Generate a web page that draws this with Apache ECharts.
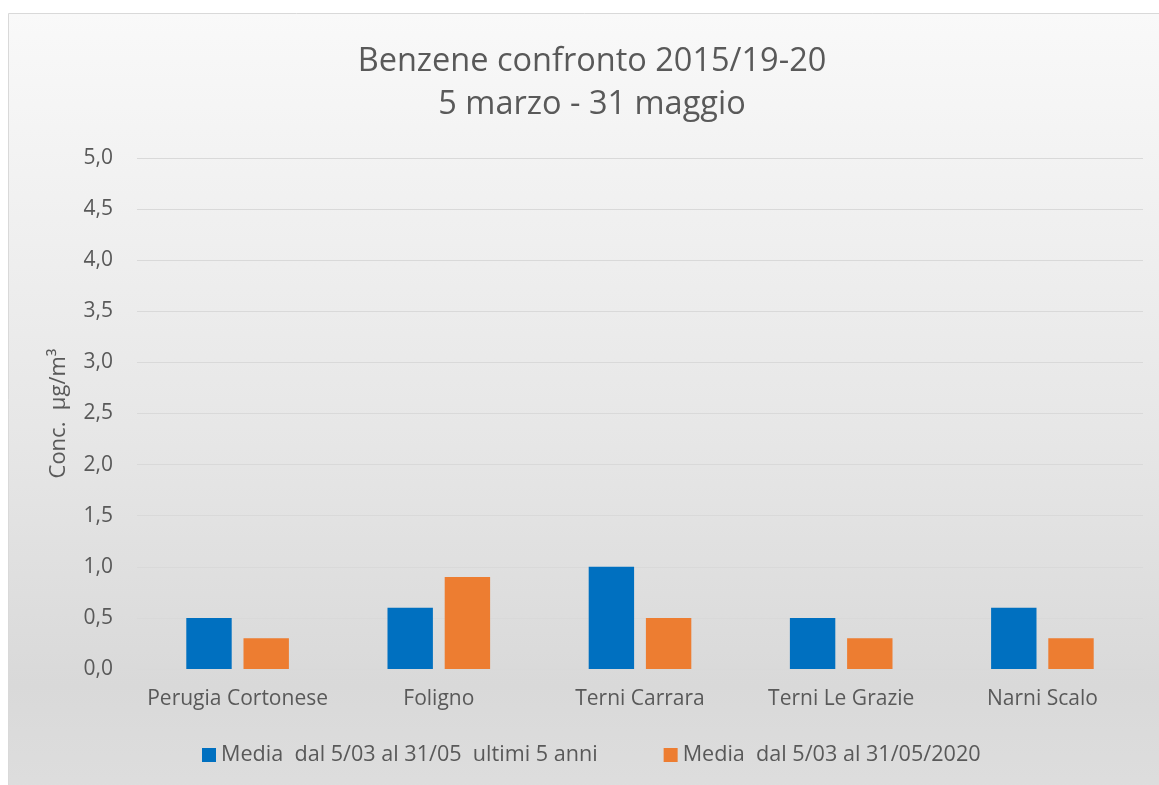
<!DOCTYPE html>
<html>
<head>
<meta charset="utf-8">
<script src="https://cdn.jsdelivr.net/npm/echarts@6/dist/echarts.min.js"></script>
<style>html,body{margin:0;padding:0;background:#fff}#c{width:1159px;height:785px}</style>
</head>
<body>
<div id="c"></div>
<script>
const titleText = "Benzene confronto 2015/19-20\n5 marzo - 31 maggio";
const categories = ["Perugia Cortonese", "Foligno", "Terni Carrara", "Terni Le Grazie", "Narni Scalo"];
const seriesNames = ["Media  dal 5/03 al 31/05  ultimi 5 anni", "Media  dal 5/03 al 31/05/2020"];
const media5anni = [0.5, 0.6, 1.0, 0.5, 0.6];
const media2020 = [0.3, 0.9, 0.5, 0.3, 0.3];
const yAxisName = "Conc.  µg/m³";

const FONT = "Open Sans";
const TXT = "#595959";
const chart = echarts.init(document.getElementById('c'));
chart.setOption({
  backgroundColor: '#ffffff',
  textStyle: { fontFamily: FONT },
  graphic: [{
    type: 'rect', z: -10, silent: true,
    shape: { x: 8.5, y: 13.5, width: 1170, height: 790 },
    style: {
      fill: new echarts.graphic.LinearGradient(0, 0, 0, 1, [
        { offset: 0, color: '#f9f9f9' },
        { offset: 0.55, color: '#e6e6e6' },
        { offset: 0.85, color: '#d9d9d9' },
        { offset: 1, color: '#dedede' }
      ], false),
      stroke: '#d9d9d9', lineWidth: 1
    }
  }],
  title: {
    text: titleText, left: 587, top: 35, textAlign: 'center',
    textStyle: { fontFamily: FONT, fontSize: 32.5, fontWeight: 'normal', color: TXT, lineHeight: 43 }
  },
  legend: {
    bottom: 14, left: 197,
    itemWidth: 14, itemHeight: 14, itemGap: 66,
    icon: 'rect',
    textStyle: { fontFamily: FONT, fontSize: 21.6, color: TXT },
    data: seriesNames
  },
  grid: { left: 137, right: 16, top: 158, bottom: 116, containLabel: false },
  xAxis: {
    type: 'category', data: categories,
    axisLine: { show: true, lineStyle: { color: '#d9d9d9', width: 1 } },
    axisTick: { show: false },
    axisLabel: { fontFamily: FONT, fontSize: 21, color: TXT, margin: 20, interval: 0 }
  },
  yAxis: {
    type: 'value', min: 0, max: 5, interval: 0.5,
    name: yAxisName, nameLocation: 'middle', nameGap: 67, nameRotate: 90,
    nameTextStyle: { fontFamily: FONT, fontSize: 22, color: TXT },
    axisLine: { show: false }, axisTick: { show: false },
    axisLabel: { fontFamily: FONT, fontSize: 21, color: TXT, margin: 24,
      formatter: v => v.toFixed(1).replace('.', ',') },
    splitLine: { lineStyle: { color: '#d9d9d9', width: 1 } }
  },
  series: [
    { name: seriesNames[0], type: 'bar', data: media5anni, itemStyle: { color: '#0070C0' },
      barGap: '26%', barCategoryGap: '49%' },
    { name: seriesNames[1], type: 'bar', data: media2020, itemStyle: { color: '#ED7D31' } }
  ]
});
</script>
</body>
</html>
